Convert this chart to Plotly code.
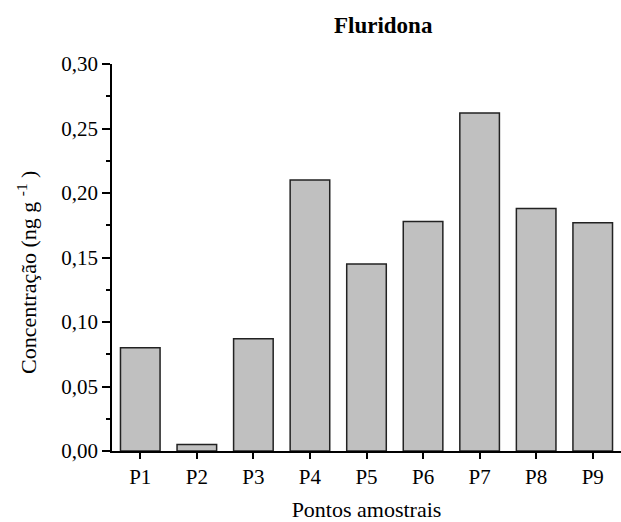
import plotly.graph_objects as go

categories = ["P1", "P2", "P3", "P4", "P5", "P6", "P7", "P8", "P9"]
values = [0.080, 0.005, 0.087, 0.210, 0.145, 0.178, 0.262, 0.188, 0.177]
y_ticks = [0.00, 0.05, 0.10, 0.15, 0.20, 0.25, 0.30]

FONT = "Liberation Serif"

fig = go.Figure()
fig.add_trace(go.Bar(
    x=categories, y=values, width=0.7,
    marker=dict(color="#c0c0c0", line=dict(color="#222222", width=1.5)),
))

fig.update_layout(
    width=621, height=522,
    margin=dict(l=112, r=0, t=64, b=71),
    paper_bgcolor="white", plot_bgcolor="white",
    separators=",.",
    showlegend=False,
    font=dict(family=FONT, size=21, color="black"),
    annotations=[
        dict(text="<b>Fluridona</b>", xref="paper", yref="paper",
             x=0.534, y=1.10, xanchor="center", yanchor="middle",
             showarrow=False, font=dict(family=FONT, size=23, color="black")),
        dict(text="Concentração (ng g <sup>-1</sup> )", xref="paper", yref="paper",
             x=(27 - 112) / 509, y=(451 - 273) / 387, xanchor="center", yanchor="middle",
             textangle=-90, showarrow=False,
             font=dict(family=FONT, size=22, color="black")),
    ],
)

fig.update_xaxes(
    type="category", range=[-0.5, 8.5],
    showline=True, linecolor="black", linewidth=1.5,
    ticks="outside", ticklen=6, tickwidth=1.5, tickcolor="black",
    showgrid=False, zeroline=False,
    tickfont=dict(family=FONT, size=21),
    title=dict(text="Pontos amostrais", standoff=14, font=dict(family=FONT, size=22)),
)

fig.update_yaxes(
    range=[0, 0.30], tickvals=y_ticks, tickformat=".2f",
    showline=True, linecolor="black", linewidth=1.5,
    ticks="outside", ticklen=8, tickwidth=1.5, tickcolor="black",
    minor=dict(ticks="outside", ticklen=4, tickwidth=1.5, tickcolor="black", dtick=0.025),
    showgrid=False, zeroline=False,
    tickfont=dict(family=FONT, size=21),
)

fig.write_html("out.html")
